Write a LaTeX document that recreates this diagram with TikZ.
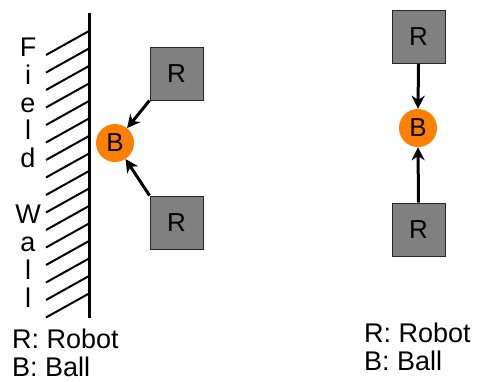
\documentclass[tikz,border=0pt]{standalone}
\usepackage{fontspec}
\setmainfont{Liberation Sans}
\usetikzlibrary{arrows.meta}
\definecolor{ballorange}{HTML}{FF8000}
\definecolor{robotgray}{HTML}{808080}
\begin{document}
\begin{tikzpicture}[x=1pt,y=-1pt,
  robot/.style={draw=black!85,line width=1pt,fill=robotgray,minimum size=53pt,inner sep=0pt,font=\fontsize{26}{30}\selectfont},
  ball/.style={circle,fill=ballorange,minimum size=38pt,inner sep=0pt,font=\fontsize{26}{30}\selectfont},
  push/.style={line width=3pt,-{Stealth[length=13pt,width=13pt,inset=4pt]}},
  legend/.style={anchor=base west,inner sep=0pt,font=\fontsize{27}{30}\selectfont},
  wallletter/.style={anchor=base,inner sep=0pt,font=\fontsize{27}{30}\selectfont}]
\useasboundingbox (0,0) rectangle (481,381);
\clip (0,0) rectangle (481,381);
% wall
\coordinate (wtop) at (89,13);
\coordinate (wbot) at (89,318);
\draw[line width=3pt] (wtop) -- (wbot);
\foreach \k in {0,...,15}{
  \draw[line width=2pt] (46,{55+17.5*\k}) -- (89,{31+17.5*\k});
}
% wall label
\foreach \c/\y [count=\i] in {F/56,i/84,e/112,l/139,d/167,W/223,a/251,l/279,l/307}{
  \node[wallletter] (wl\i) at (28,\y) {\c};
}
% left scene
\node[robot] (r1) at (176.5,73.5) {R};
\node[robot] (r2) at (176.5,222.5) {R};
\node[ball] (b1) at (115,143) {B};
\draw[push] (r1.south west) -- (b1);
\draw[push] (r2.north west) -- (b1);
% right scene
\node[robot] (r3) at (418.5,37) {R};
\node[robot] (r4) at (418.5,229.5) {R};
\node[ball] (b2) at (418,128) {B};
\draw[push] (r3.south) -- (b2.north);
\draw[push] (r4.north) -- (b2.south);
% legends
\node[legend] (lg1) at (12,348) {R: Robot};
\node[legend] (lg2) at (12,376) {B: Ball};
\node[legend] (lg3) at (364,342) {R: Robot};
\node[legend] (lg4) at (364,370) {B: Ball};
\end{tikzpicture}
\end{document}
